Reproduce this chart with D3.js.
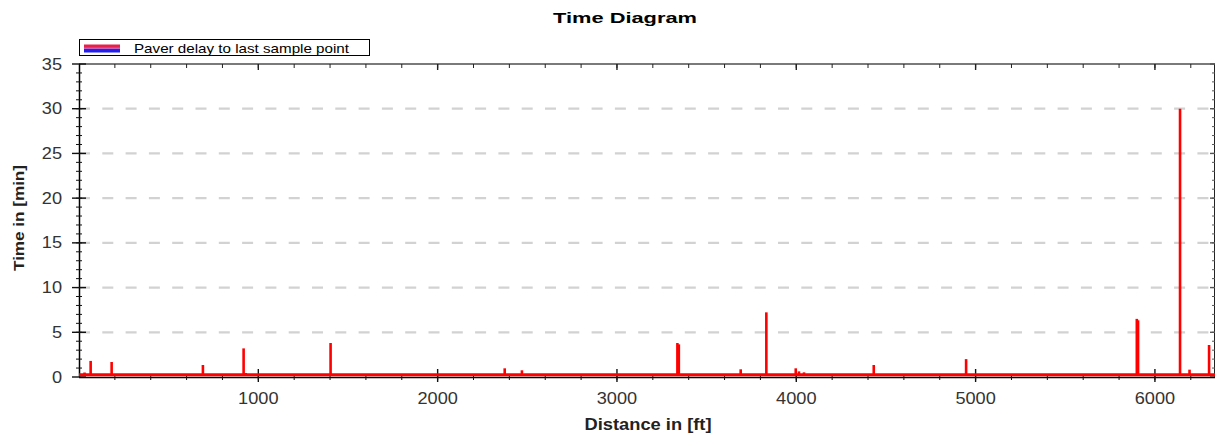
<!DOCTYPE html>
<html>
<head>
<meta charset="utf-8">
<script src="https://cdn.jsdelivr.net/npm/d3@7"></script>
<style>
  html, body { margin: 0; padding: 0; background: #fff; }
  svg { display: block; font-family: "Liberation Sans", Arial, sans-serif; }
</style>
</head>
<body>
<svg id="chart" width="1215" height="437"></svg>
<script>
// ---- data ----
const spikeDistance = [31, 65, 182, 691, 918, 930, 1403, 2374, 2470, 3337, 3345, 3690, 3833, 3997, 4015, 4043, 4432, 4947, 5899, 5906, 6140, 6193, 6302];
const spikeDelay    = [0.5, 1.8, 1.68, 1.34, 3.2, 0.45, 3.8, 0.97, 0.75, 3.8, 3.65, 0.86, 7.23, 0.97, 0.63, 0.52, 1.34, 2.0, 6.5, 6.34, 30.0, 0.82, 3.58];
const baselineDistance = [0, 6335];
const baselineDelay    = [0.25, 0.25];
const xMajorTicks = [1000, 2000, 3000, 4000, 5000, 6000];
const yMajorTicks = [0, 5, 10, 15, 20, 25, 30, 35];
const gridValues  = [5, 10, 15, 20, 25, 30];
const seriesName = "Paver delay to last sample point";
const titleText = "Time Diagram";
const xLabel = "Distance in [ft]";
const yLabel = "Time in [min]";

// ---- layout ----
const L = 79, R = 1215, T = 64, B = 377;
const svg = d3.select("#chart");
const x = d3.scaleLinear().domain([0, 6335]).range([L, R]);
const y = d3.scaleLinear().domain([0, 35]).range([B, T]);

const xMinor = d3.range(200, 6335, 200);
const yMinor = d3.range(1, 35, 1);

// grid lines
svg.append("g").selectAll("line").data(gridValues).join("line")
  .attr("x1", L).attr("x2", R)
  .attr("y1", d => y(d)).attr("y2", d => y(d))
  .attr("stroke", "#d2d2d2").attr("stroke-width", 2.2)
  .attr("stroke-dasharray", "11,12.3");

// top frame
svg.append("line").attr("x1", L).attr("x2", R).attr("y1", T).attr("y2", T)
  .attr("stroke", "#7a7a7a").attr("stroke-width", 2);

// top ticks
const topG = svg.append("g");
topG.selectAll("line.mi").data(xMinor).join("line").attr("class", "mi")
  .attr("x1", d => x(d)).attr("x2", d => x(d)).attr("y1", T).attr("y2", T + 4)
  .attr("stroke", "#222").attr("stroke-width", 1);
topG.selectAll("line.ma").data(xMajorTicks).join("line").attr("class", "ma")
  .attr("x1", d => x(d)).attr("x2", d => x(d)).attr("y1", T).attr("y2", T + 6)
  .attr("stroke", "#222").attr("stroke-width", 1.4);

// right axis
const rG = svg.append("g");
rG.append("line").attr("x1", R - 0.5).attr("x2", R - 0.5).attr("y1", T).attr("y2", B).attr("stroke", "#222");
rG.selectAll("line.mi").data(yMinor).join("line").attr("class", "mi")
  .attr("x1", R - 3).attr("x2", R).attr("y1", d => y(d)).attr("y2", d => y(d))
  .attr("stroke", "#555").attr("stroke-width", 1);
rG.selectAll("line.ma").data(yMajorTicks).join("line").attr("class", "ma")
  .attr("x1", R - 5).attr("x2", R).attr("y1", d => y(d)).attr("y2", d => y(d))
  .attr("stroke", "#555").attr("stroke-width", 1.4);

// bottom axis
const bG = svg.append("g");
bG.append("line").attr("x1", L).attr("x2", R).attr("y1", B + 0.5).attr("y2", B + 0.5)
  .attr("stroke", "#000").attr("stroke-width", 1.5);
bG.selectAll("line.mi").data(xMinor).join("line").attr("class", "mi")
  .attr("x1", d => x(d)).attr("x2", d => x(d)).attr("y1", B - 3).attr("y2", B + 3)
  .attr("stroke", "#111").attr("stroke-width", 1);
bG.selectAll("line.ma").data(xMajorTicks).join("line").attr("class", "ma")
  .attr("x1", d => x(d)).attr("x2", d => x(d)).attr("y1", B - 8).attr("y2", B + 5)
  .attr("stroke", "#111").attr("stroke-width", 1.4);
bG.selectAll("text").data(xMajorTicks).join("text")
  .attr("x", d => x(d)).attr("y", 404)
  .attr("text-anchor", "middle").attr("font-size", 16).attr("fill", "#333")
  .attr("textLength", d => String(d).length * 10.1).attr("lengthAdjust", "spacingAndGlyphs")
  .text(d => d);

// left axis
const lG = svg.append("g");
lG.append("line").attr("x1", L + 0.5).attr("x2", L + 0.5).attr("y1", T).attr("y2", B)
  .attr("stroke", "#000").attr("stroke-width", 1.5);
lG.selectAll("line.mi").data(yMinor).join("line").attr("class", "mi")
  .attr("x1", L - 3).attr("x2", L + 3).attr("y1", d => y(d)).attr("y2", d => y(d))
  .attr("stroke", "#111").attr("stroke-width", 1);
lG.selectAll("line.ma").data(yMajorTicks).join("line").attr("class", "ma")
  .attr("x1", L - 7).attr("x2", L + 7).attr("y1", d => y(d)).attr("y2", d => y(d))
  .attr("stroke", "#111").attr("stroke-width", 1.4);
lG.selectAll("text").data(yMajorTicks).join("text")
  .attr("x", 62).attr("y", d => y(d) + 5.5)
  .attr("text-anchor", "end").attr("font-size", 16).attr("fill", "#333")
  .attr("textLength", d => String(d).length * 10.1).attr("lengthAdjust", "spacingAndGlyphs")
  .text(d => d);

// series: baseline + spikes
const baseline = baselineDistance.map((d, i) => [d, baselineDelay[i]]);
svg.append("path").datum(baseline)
  .attr("d", d3.line().x(d => x(d[0])).y(d => y(d[1])))
  .attr("stroke", "#ff0000").attr("stroke-width", 2.8).attr("fill", "none");
const spikes = spikeDistance.map((d, i) => ({ d, v: spikeDelay[i] }));
svg.append("g").selectAll("line").data(spikes).join("line")
  .attr("x1", s => x(s.d)).attr("x2", s => x(s.d))
  .attr("y1", y(baselineDelay[0])).attr("y2", s => y(s.v))
  .attr("stroke", "#ff0000").attr("stroke-width", 2.6);

// title
svg.append("text").attr("x", 625).attr("y", 23)
  .attr("text-anchor", "middle").attr("font-size", 15).attr("font-weight", "bold").attr("fill", "#000")
  .attr("textLength", 144).attr("lengthAdjust", "spacingAndGlyphs")
  .text(titleText);

// axis labels
svg.append("text").attr("x", 648).attr("y", 430)
  .attr("text-anchor", "middle").attr("font-size", 16).attr("font-weight", "bold").attr("fill", "#222")
  .attr("textLength", 127).attr("lengthAdjust", "spacingAndGlyphs")
  .text(xLabel);
svg.append("text").attr("transform", "translate(24,218) rotate(-90)")
  .attr("text-anchor", "middle").attr("font-size", 15).attr("font-weight", "bold").attr("fill", "#222")
  .attr("textLength", 106).attr("lengthAdjust", "spacingAndGlyphs")
  .text(yLabel);

// legend
const lg = svg.append("g");
lg.append("rect").attr("x", 79.5).attr("y", 39.5).attr("width", 290).attr("height", 16)
  .attr("fill", "#fff").attr("stroke", "#000").attr("stroke-width", 1);
lg.append("rect").attr("x", 84).attr("y", 44.5).attr("width", 36).attr("height", 4)
  .attr("fill", "#e8204a");
lg.append("rect").attr("x", 84).attr("y", 47.5).attr("width", 36).attr("height", 1.5)
  .attr("fill", "#c060c0");
lg.append("rect").attr("x", 84).attr("y", 49).attr("width", 36).attr("height", 3.5)
  .attr("fill", "#2020f0");
lg.append("text").attr("x", 134).attr("y", 52.5)
  .attr("font-size", 13).attr("fill", "#000")
  .attr("textLength", 215).attr("lengthAdjust", "spacingAndGlyphs")
  .text(seriesName);
</script>
</body>
</html>
